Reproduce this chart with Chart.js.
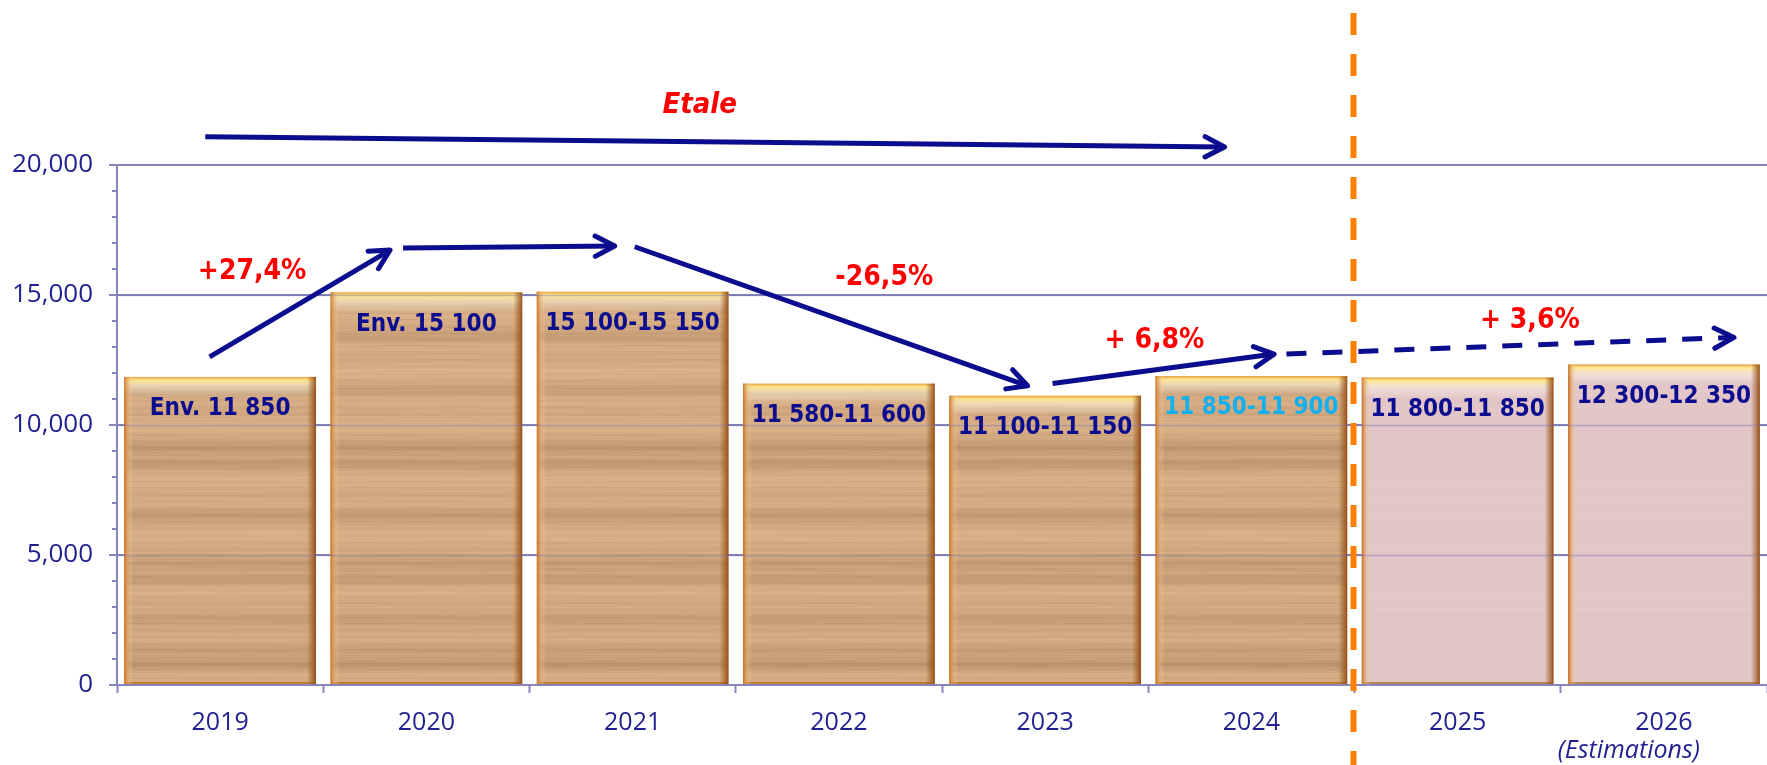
<!DOCTYPE html>
<html><head><meta charset="utf-8">
<script src="https://cdn.jsdelivr.net/npm/chart.js@4.4.1/dist/chart.umd.min.js"></script>
<style>html,body{margin:0;padding:0;background:#fff;}#wrap{width:1767px;height:765px;}</style>
</head><body><div id="wrap"><canvas id="c" width="1767" height="765"></canvas></div>
<script>
// ---- data ----
const categories = ['2019','2020','2021','2022','2023','2024','2025','2026'];
const values = [11850, 15100, 15125, 11590, 11125, 11875, 11825, 12325];
const barLabels = ['Env. 11 850','Env. 15 100','15 100-15 150','11 580-11 600','11 100-11 150','11 850-11 900','11 800-11 850','12 300-12 350'];
const isEstimate = [false,false,false,false,false,false,true,true];
const highlightLabel = [false,false,false,false,false,true,false,false];
const yMax = 20000;
const yMajorStep = 5000;
const yMinorStep = 1000;
const estimateNote = '(Estimations)';
// annotations in data units: x = category index (fractional), y = value
const arrows = [
  {x1:-0.072, y1:21089, x2:4.87, y2:20693, dashed:false},
  {x1:-0.051, y1:12623, x2:0.824, y2:16729, dashed:false},
  {x1:0.887, y1:16806, x2:1.913, y2:16883, dashed:false},
  {x1:2.01, y1:16856, x2:3.915, y2:11507, dashed:false},
  {x1:4.036, y1:11599, x2:5.11, y2:12727, dashed:false},
  {x1:5.17, y1:12727, x2:7.34, y2:13369, dashed:true}
];
const notes = [
  {text:'Etale', x:2.325, y:22306, italic:true},
  {text:'+27,4%', x:0.155, y:15882, italic:false},
  {text:'-26,5%', x:3.22, y:15651, italic:false},
  {text:'+ 6,8%', x:4.53, y:13228, italic:false},
  {text:'+ 3,6%', x:6.35, y:13997, italic:false}
];
const dividerAt = 5.5;

// ---- styles ----
const axisText = '#1f1f8f';
const gridColor = '#8686bd';
const navy = '#0c0c8e';
const condensed = "'DejaVu Sans Condensed', 'DejaVu Sans', sans-serif";

const patCache = {};
function makePattern(ctx, kind){
  if (patCache[kind]) return patCache[kind];
  const c = document.createElement('canvas'); c.width = 240; c.height = 765;
  const g = c.getContext('2d');
  if (kind === 'wood') {
    const bands = [[338,0.35],[392,0.3],[448,0.55],[462,0.4],[513,0.45],[563,0.5],[580,0.35],[618,0.45],[648,0.4],[665,0.55]];
    for (let y = 0; y < 765; y++) {
      let d = 0;
      for (const [b, s] of bands) d += s*Math.exp(-Math.pow((y-b)/6,2));
      d += 0.07*Math.sin(y*0.93) + 0.05*Math.sin(y*2.17+0.7) + 0.1*Math.sin(y*0.23+1.1);
      const r = Math.round(212 - 45*d), gg = Math.round(171 - 42*d), bb = Math.round(130 - 38*d);
      g.fillStyle = `rgb(${r},${gg},${bb})`; g.fillRect(0, y, 240, 1);
    }
    // subtle grain variation along x
    for (let y = 0; y < 765; y += 2) {
      const a = 0.05 + 0.04*Math.sin(y*0.7);
      g.fillStyle = `rgba(236,205,170,${a.toFixed(3)})`;
      const off = (y*37) % 240;
      g.fillRect(off, y, 110, 1);
      g.fillStyle = `rgba(150,105,65,${(a*0.8).toFixed(3)})`;
      g.fillRect((off+130) % 240, y+1, 70, 1);
    }
  } else {
    for (let y = 0; y < 765; y++) {
      const d = 0.08*Math.sin(y*1.3) + 0.06*Math.sin(y*0.41+0.5);
      const r = Math.round(226 - 12*d), gg = Math.round(198 - 12*d), bb = Math.round(200 - 12*d);
      g.fillStyle = `rgb(${r},${gg},${bb})`; g.fillRect(0, y, 240, 1);
    }
  }
  patCache[kind] = ctx.createPattern(c, 'repeat');
  return patCache[kind];
}

function xPix(chart, v){
  const xs = chart.scales.x;
  const p0 = xs.getPixelForValue(0), p1 = xs.getPixelForValue(1);
  return p0 + v*(p1-p0);
}
function yPix(chart, v){ return chart.scales.y.getPixelForValue(v); }

function drawArrow(ctx, x1, y1, x2, y2, dashed){
  ctx.save();
  ctx.strokeStyle = navy; ctx.lineWidth = 5;
  if (dashed) ctx.setLineDash([20,16]);
  ctx.beginPath(); ctx.moveTo(x1,y1); ctx.lineTo(x2,y2); ctx.stroke();
  ctx.setLineDash([]);
  const a = Math.atan2(y2-y1, x2-x1), L = 22, w = 0.48;
  ctx.lineCap = 'round'; ctx.lineJoin = 'round';
  ctx.beginPath();
  ctx.moveTo(x2 - L*Math.cos(a-w), y2 - L*Math.sin(a-w));
  ctx.lineTo(x2, y2);
  ctx.lineTo(x2 - L*Math.cos(a+w), y2 - L*Math.sin(a+w));
  ctx.stroke();
  ctx.restore();
}

const decor = {
  id: 'decor',
  afterDatasetsDraw(chart){
    const ctx = chart.ctx, ys = chart.scales.y, area = chart.chartArea;
    const meta = chart.getDatasetMeta(0);
    meta.data.forEach((el, i) => {
      const {x, y, base, width} = el.getProps(['x','y','base','width'], true);
      const l = x - width/2, r = x + width/2;
      ctx.save();
      let g = ctx.createLinearGradient(0, y, 0, y+20);
      g.addColorStop(0, 'rgba(232,160,60,1)');
      g.addColorStop(0.15, 'rgba(255,232,140,0.95)');
      g.addColorStop(0.45, 'rgba(255,248,215,0.55)');
      g.addColorStop(1, 'rgba(255,255,255,0)');
      ctx.fillStyle = g; ctx.fillRect(l, y, width, 20);
      g = ctx.createLinearGradient(l, 0, l+9, 0);
      g.addColorStop(0, 'rgba(205,115,35,0.95)');
      g.addColorStop(1, 'rgba(255,230,190,0)');
      ctx.fillStyle = g; ctx.fillRect(l, y, 9, base-y);
      g = ctx.createLinearGradient(r-9, 0, r, 0);
      g.addColorStop(0, 'rgba(150,80,20,0)');
      g.addColorStop(1, 'rgba(150,80,25,0.95)');
      ctx.fillStyle = g; ctx.fillRect(r-9, y, 9, base-y);
      ctx.restore();
    });
    ctx.save();
    ctx.strokeStyle = 'rgba(110,110,175,0.4)'; ctx.lineWidth = 1.5;
    for (let v = yMajorStep; v < yMax; v += yMajorStep) {
      const py = Math.round(ys.getPixelForValue(v)) + 0.5;
      ctx.beginPath(); ctx.moveTo(area.left, py); ctx.lineTo(area.right, py); ctx.stroke();
    }
    ctx.restore();
    ctx.save();
    ctx.font = `bold 24px ${condensed}`;
    ctx.textAlign = 'center'; ctx.textBaseline = 'middle';
    meta.data.forEach((el, i) => {
      ctx.fillStyle = highlightLabel[i] ? '#12b0ee' : navy;
      ctx.fillText(barLabels[i], el.x, el.y + 32);
    });
    ctx.restore();
  },
  afterDraw(chart){
    const ctx = chart.ctx, ys = chart.scales.y, xs = chart.scales.x;
    ctx.save();
    ctx.strokeStyle = gridColor; ctx.lineWidth = 2;
    for (let v = 0; v <= yMax; v += yMinorStep) {
      const py = Math.round(ys.getPixelForValue(v));
      const len = v % yMajorStep === 0 ? 8 : 5;
      ctx.beginPath(); ctx.moveTo(ys.right - len, py); ctx.lineTo(ys.right, py); ctx.stroke();
    }
    ctx.restore();
    arrows.forEach(a => drawArrow(ctx, xPix(chart,a.x1), yPix(chart,a.y1), xPix(chart,a.x2), yPix(chart,a.y2), a.dashed));
    ctx.save();
    ctx.fillStyle = '#ff0000'; ctx.textAlign = 'center'; ctx.textBaseline = 'middle';
    notes.forEach(n => {
      ctx.font = n.italic ? `italic bold 29px ${condensed}` : `bold 28px ${condensed}`;
      ctx.fillText(n.text, xPix(chart,n.x), yPix(chart,n.y));
    });
    ctx.restore();
    ctx.save();
    ctx.fillStyle = axisText; ctx.font = "italic 25px 'Open Sans'";
    ctx.textAlign = 'right'; ctx.textBaseline = 'middle';
    ctx.fillText(estimateNote, xs.getPixelForValue(categories.length-1) + 36, 751);
    ctx.restore();
    ctx.save();
    ctx.strokeStyle = '#ff8000'; ctx.lineWidth = 6; ctx.setLineDash([22,19]); ctx.lineDashOffset = -13;
    const dx = xPix(chart, dividerAt) - 1;
    ctx.beginPath(); ctx.moveTo(dx, 0); ctx.lineTo(dx, chart.height); ctx.stroke();
    ctx.restore();
  }
};

const ctx = document.getElementById('c').getContext('2d');
new Chart(ctx, {
  type: 'bar',
  data: {
    labels: categories,
    datasets: [{
      data: values,
      backgroundColor: (c) => makePattern(c.chart.ctx, isEstimate[c.dataIndex] ? 'pink' : 'wood'),
      borderColor: (c) => isEstimate[c.dataIndex] ? '#b8844e' : '#c57a30',
      borderWidth: 2,
      borderSkipped: false,
      categoryPercentage: 1,
      barPercentage: 0.93
    }]
  },
  options: {
    responsive: false,
    animation: false,
    events: [],
    layout: { padding: { top: 165, left: 0, right: 0, bottom: 0 } },
    plugins: { legend: { display: false }, tooltip: { enabled: false } },
    scales: {
      x: {
        ticks: { color: axisText, font: { family: 'Open Sans', size: 25 }, padding: 15 },
        grid: { offset: true, drawOnChartArea: false, drawTicks: true, tickLength: 8, tickColor: gridColor, tickWidth: 2 },
        border: { color: gridColor, width: 2 },
        afterFit: (s) => { s.height = 80; }
      },
      y: {
        min: 0, max: yMax,
        ticks: { stepSize: yMinorStep, autoSkip: false, color: axisText, font: { family: 'Open Sans', size: 26 }, padding: 24,
                 callback: (v) => v % yMajorStep === 0 ? v.toLocaleString('en-US') : '' },
        grid: { color: (c) => (c.tick && c.tick.value % yMajorStep === 0) ? gridColor : 'rgba(0,0,0,0)', lineWidth: 2, drawTicks: false },
        border: { color: gridColor, width: 2 },
        afterFit: (s) => { s.width = 117; }
      }
    }
  },
  plugins: [decor]
});
</script>
</body></html>
